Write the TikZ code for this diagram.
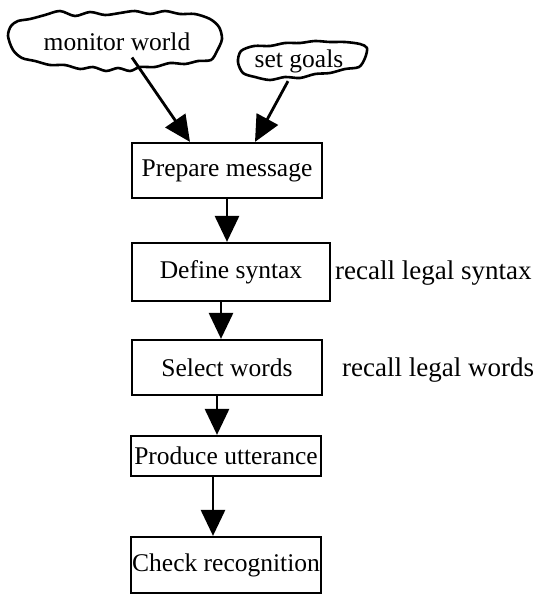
\documentclass[tikz,border=0pt]{standalone}
\usepackage{fontspec}
\setmainfont{Liberation Serif}
\usetikzlibrary{arrows.meta}

\tikzset{
  stepbox/.style={draw,line width=2.2pt,minimum width=190pt,inner xsep=1pt,inner ysep=2pt},
  blobline/.style={line width=2.6pt,line join=round},
  flow/.style={line width=2.8pt,-{Triangle[length=26pt,width=24pt]}},
  note/.style={inner sep=0pt,anchor=west,font=\fontsize{27}{30}\selectfont}
}

\begin{document}
\begin{tikzpicture}[x=1pt,y=-1pt,font=\fontsize{25.5}{30}\selectfont]
  \useasboundingbox (0,0) rectangle (537,595);
  % wobbly outlines of the sources
  \draw[blobline] plot[smooth cycle,tension=0.5] coordinates {
    (8,36) (11,26) (18,21) (30,19) (45,15) (60,11) (75,16) (90,12) (105,15)
    (120,13) (135,11) (150,14) (165,11) (180,14) (195,14) (210,19) (219,27)
    (222,39) (217,51) (211,60) (198,61) (185,64) (170,63) (155,67) (140,67)
    (130,71) (118,68) (106,71) (93,67) (80,69) (65,65) (50,65) (35,61)
    (22,58) (13,50)};
  \draw[blobline] plot[smooth cycle,tension=0.5] coordinates {
    (238,62) (241,51) (254,46) (270,46) (285,43) (300,43) (315,41) (330,42)
    (345,42) (360,44) (367,48) (365,58) (359,67) (345,69) (330,73) (315,74)
    (300,78) (285,77) (270,80) (255,77) (243,73)};
  % sources
  \node(mon)at(117,42){monitor world};
  \node(goal)at(299,61){set goals};
  % steps
  \node[stepbox,minimum height=55pt](prep)at(227,170.5){Prepare message};
  \node[stepbox,minimum width=198pt,minimum height=58pt](def)at(231,272){Define syntax};
  \node[stepbox,minimum height=55pt](sel)at(227,367.5){Select words};
  \node[stepbox,minimum height=40pt](prod)at(226,456){Produce utterance};
  \node[stepbox,minimum height=56pt](chk)at(226,565){Check recognition};
  % side notes
  \node[note](rsyn)at(335,273){recall legal syntax};
  \node[note](rwrd)at(342,370){recall legal words};
  % arrows
  \draw[flow] ([xshift=15pt,yshift=-3pt]mon.south) -- ([xshift=-37pt]prep.north);
  \draw[flow] ([xshift=-11pt,yshift=-5pt]goal.south) -- ([xshift=28pt]prep.north);
  \draw[flow] (prep.south) -- ([xshift=-4pt]def.north);
  \draw[flow] ([xshift=-10pt]def.south) -- ([xshift=-6pt]sel.north);
  \draw[flow] ([xshift=-10pt]sel.south) -- ([xshift=-9pt]prod.north);
  \draw[flow] ([xshift=-13pt]prod.south) -- ([xshift=-13pt]chk.north);
\end{tikzpicture}
\end{document}
